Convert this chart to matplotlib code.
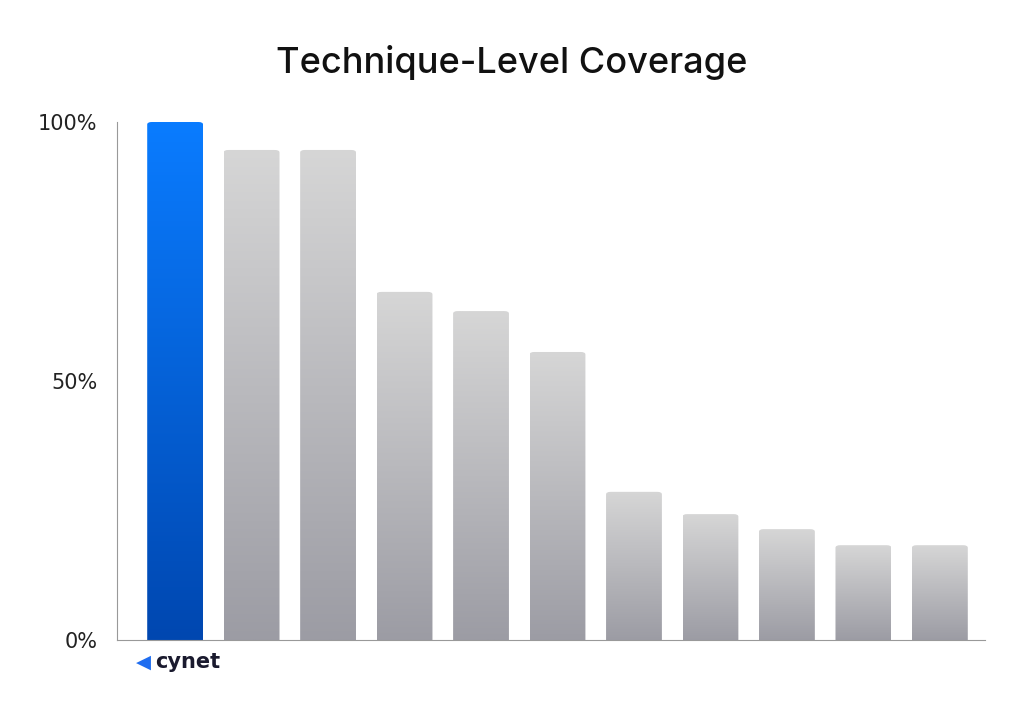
import matplotlib
matplotlib.use("Agg")
import matplotlib.pyplot as plt
import numpy as np
from matplotlib.patches import FancyBboxPatch
from matplotlib.colors import LinearSegmentedColormap

categories = ["Cynet", "V2", "V3", "V4", "V5", "V6", "V7", "V8", "V9", "V10", "V11"]
values = [100, 94.6, 94.6, 67.2, 63.5, 55.6, 28.6, 24.3, 21.4, 18.3, 18.3]
yticks = [0, 50, 100]
yticklabels = ["0%", "50%", "100%"]

fig = plt.figure(figsize=(10.24, 7.13), dpi=100)
ax = fig.add_axes([117/1024, 1-640/713, 868/1024, 518/713])
x = np.arange(len(values))
bars = ax.bar(x, values, width=0.73, color="none")
blue = LinearSegmentedColormap.from_list("b", ["#0047b0", "#0a7cff"])
gray = LinearSegmentedColormap.from_list("g", ["#9c9ca4", "#d6d6d6"])
grad = np.linspace(0, 1, 256).reshape(-1, 1)
for i, b in enumerate(bars):
    x0, w, h = b.get_x(), b.get_width(), b.get_height()
    patch = FancyBboxPatch((x0, -3), w, h + 3, boxstyle="round,pad=0,rounding_size=0.06",
                           mutation_aspect=8, facecolor="none", edgecolor="none")
    ax.add_patch(patch)
    im = ax.imshow(grad, extent=(x0, x0 + w, 0, h), origin="lower", aspect="auto",
                   cmap=blue if i == 0 else gray, zorder=2)
    im.set_clip_path(patch)
ax.set_xlim(-0.76, len(values) - 0.41)
ax.set_ylim(0, 100)
ax.set_yticks(yticks)
ax.set_yticklabels(yticklabels, fontsize=15, color="#222222")
ax.set_xticks([])
for s in ["top", "right"]:
    ax.spines[s].set_visible(False)
for s in ["left", "bottom"]:
    ax.spines[s].set_color("#999999")
ax.tick_params(axis="y", length=0, pad=14)
fig.text(0.5, 1-62/713, "Technique-Level Coverage", ha="center", va="center",
         fontsize=26, color="#111111", family="Inter", fontweight="medium")
fig.text(143/1024, 1-662/713, "\u25C0", ha="center", va="center", fontsize=14, color="#1f6df0")
fig.text(155/1024, 1-662/713, "cynet", ha="left", va="center", fontsize=15,
         fontweight="bold", color="#1a1a2e")
fig.savefig("out.png", dpi=100)
